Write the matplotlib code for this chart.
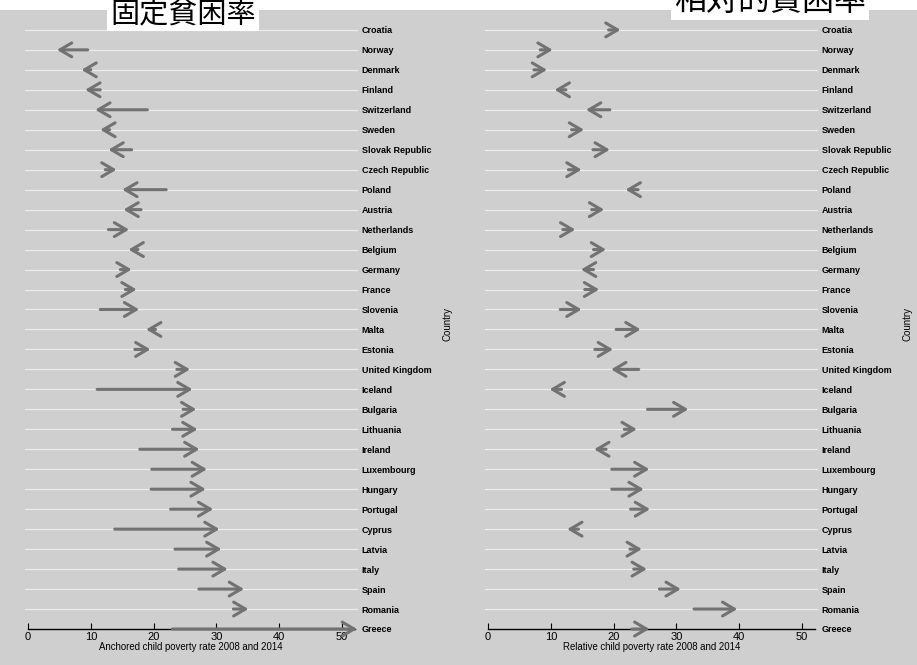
import numpy as np
import matplotlib
matplotlib.use("Agg")
import matplotlib.pyplot as plt

plt.rcParams['font.family'] = ['Liberation Sans', 'Noto Sans CJK JP', 'DejaVu Sans']

# Countries, top to bottom
countries = ["Croatia", "Norway", "Denmark", "Finland", "Switzerland", "Sweden",
             "Slovak Republic", "Czech Republic", "Poland", "Austria", "Netherlands",
             "Belgium", "Germany", "France", "Slovenia", "Malta", "Estonia",
             "United Kingdom", "Iceland", "Bulgaria", "Lithuania", "Ireland",
             "Luxembourg", "Hungary", "Portugal", "Cyprus", "Latvia", "Italy",
             "Spain", "Romania", "Greece"]

# Anchored child poverty rate (2008 -> 2014), Croatia missing
anchored_2008 = [np.nan, 9.5, 10.0, 11.5, 19.0, 13.0, 16.5, 12.3, 22.0, 18.0, 12.8,
                 17.5, 14.7, 15.5, 11.5, 20.3, 17.0, 23.7, 11.0, 24.7, 23.0, 17.8,
                 19.7, 19.6, 22.7, 13.8, 23.4, 24.0, 27.2, 32.7, 23.0]
anchored_2014 = [np.nan, 4.6, 8.5, 9.1, 10.7, 11.5, 12.8, 14.1, 15.0, 15.2, 16.1,
                 16.0, 16.5, 17.3, 17.7, 18.8, 19.5, 25.8, 26.2, 26.8, 27.0, 27.3,
                 28.5, 28.3, 29.5, 30.5, 30.8, 31.8, 34.4, 35.1, 52.4]

# Relative child poverty rate (2008 -> 2014)
relative_2008 = [19.2, 8.3, 7.3, 12.4, 19.4, 13.3, 16.7, 12.8, 23.9, 16.5, 11.9,
                 16.8, 16.8, 15.4, 11.5, 20.4, 17.0, 24.0, 11.7, 25.4, 21.7, 18.8,
                 19.7, 19.7, 22.7, 14.4, 22.6, 23.2, 27.3, 32.8, 22.9]
relative_2014 = [21.1, 10.3, 9.4, 10.6, 15.6, 15.3, 19.4, 14.9, 21.9, 18.5, 13.9,
                 18.8, 14.8, 17.7, 14.9, 24.3, 19.9, 19.6, 9.8, 31.9, 23.7, 16.9,
                 25.7, 24.8, 25.8, 12.6, 24.5, 25.3, 30.7, 39.7, 25.7]

titles = ["固定貧困率", "相対的貧困率"]
xlabels = ["Anchored child poverty rate 2008 and 2014",
           "Relative child poverty rate 2008 and 2014"]

bg = '#cfcfcf'
fig = plt.figure(figsize=(9.17, 6.65), dpi=100, facecolor=bg)
# white strip across the top
fig.patches.append(plt.Rectangle((0, 1 - 10 / 665), 1, 10 / 665, transform=fig.transFigure,
                                 facecolor='white', edgecolor='none', zorder=0))

n = len(countries)
ypos = np.arange(n)[::-1]  # Croatia at top, Greece at 0

panels = [(anchored_2008, anchored_2014), (relative_2008, relative_2014)]
lefts = [24.9 / 917, 484.9 / 917]

for i, (start, end) in enumerate(panels):
    ax = fig.add_axes([lefts[i], 36 / 665, 332.8 / 917, 30.5 * 19.97 / 665])
    ax.set_facecolor('none')
    ax.set_xlim(-0.5, 52.5)
    ax.set_ylim(0, 30.5)

    for y in ypos:
        ax.axhline(y, color='#ececec', lw=0.9, zorder=1)

    for s, e, y in zip(start, end, ypos):
        if np.isnan(s):
            continue
        ax.annotate('', xy=(e, y), xytext=(s, y),
                    arrowprops=dict(arrowstyle='->,head_length=0.85,head_width=0.5',
                                    color='#727272', lw=2.2, shrinkA=0, shrinkB=0),
                    zorder=3)

    for side in ['top', 'left', 'right']:
        ax.spines[side].set_visible(False)
    ax.spines['bottom'].set_bounds(0, 52)
    ax.spines['bottom'].set_color('black')
    ax.spines['bottom'].set_linewidth(1.0)

    ax.set_xticks([0, 10, 20, 30, 40, 50])
    ax.tick_params(axis='x', direction='in', length=4, width=0.8, labelsize=8, pad=2)
    ax.set_xlabel(xlabels[i], fontsize=6.9, labelpad=0)

    ax.yaxis.tick_right()
    ax.set_yticks(ypos)
    ax.set_yticklabels(countries, fontsize=6.5, fontweight='bold')
    ax.tick_params(axis='y', length=0, pad=3)
    ax.yaxis.set_label_position('right')
    ax.set_ylabel('Country', fontsize=7, rotation=90)
    ax.yaxis.set_label_coords(1.255, 0.5)

    # titles: the right one is cut at the top edge, as in the source
    cx = [183 / 917, 770 / 917][i]
    cy = [1 - 14 / 665, 1 - 2 / 665][i]
    fs = [21, 23][i]
    fig.text(cx, cy, titles[i], fontsize=fs, ha='center', va='center',
             bbox=dict(facecolor='white', edgecolor='none', pad=2))

fig.savefig('out.png', dpi=100, facecolor=bg)
